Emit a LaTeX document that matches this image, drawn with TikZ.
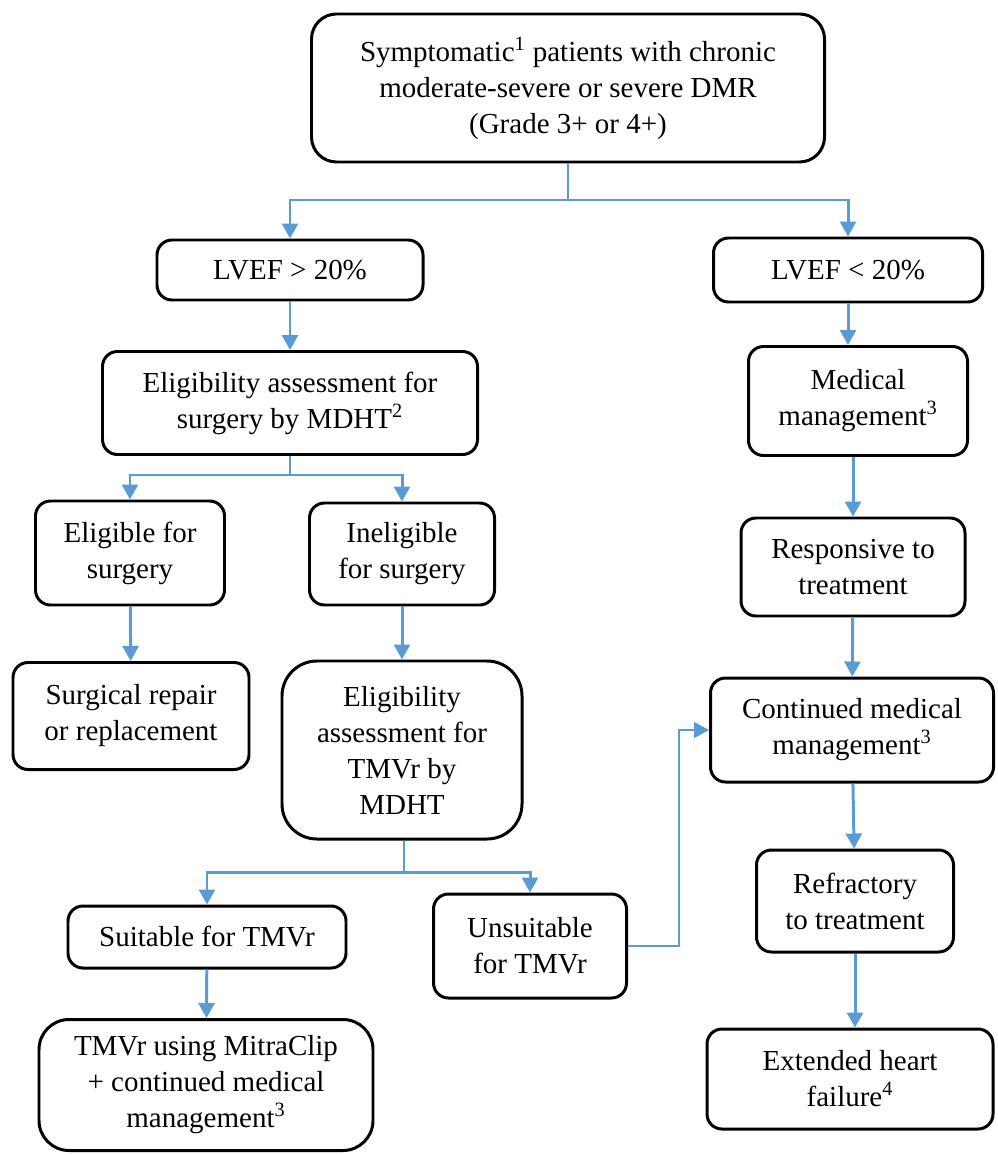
\documentclass[tikz,border=0pt]{standalone}
\usepackage{fontspec}
\setmainfont{Liberation Serif}
\usetikzlibrary{arrows.meta}
\definecolor{flow}{RGB}{91,155,213}

\begin{document}
\begin{tikzpicture}[x=0.02cm, y=-0.02cm,
  main/.style 2 args = {draw, line width=1.7pt, rounded corners=0.3cm, align=center, inner sep=0pt,
    minimum width=#1*0.02cm, minimum height=#2*0.02cm, font=\fontsize{16.5}{20.5}\selectfont},
  link/.style = {flow, line width=1.7pt},
  arr/.style = {link, -{Triangle[width=0.32cm,length=0.3cm]}},
  thinlink/.style = {flow, line width=0.8pt}]
\useasboundingbox (0,0) rectangle (997,1155);

\node[main={513}{148}, rounded corners=0.5cm] (top) at (568,88) {Symptomatic\textsuperscript{1} patients with chronic\\moderate-severe or severe DMR\\(Grade 3+ or 4+)};
\node[main={266}{60}] (lvefA) at (290,270) {LVEF > 20\%};
\node[main={269}{64}] (lvefB) at (848,270) {LVEF < 20\%};
\node[main={375}{103}] (eligS) at (290,403) {Eligibility assessment for\\surgery by MDHT\textsuperscript{2}};
\node[main={219}{109}] (med) at (858,401) {Medical\\management\textsuperscript{3}};
\node[main={189}{104}] (elig) at (130,553) {Eligible for\\surgery};
\node[main={185}{102}] (inel) at (402,554) {Ineligible\\for surgery};
\node[main={224}{98}] (resp) at (853,567) {Responsive to\\treatment};
\node[main={236}{107}] (surg) at (131,716) {Surgical repair\\or replacement};
\node[main={240}{178}, rounded corners=0.7cm] (eligT) at (402,750) {Eligibility\\assessment for\\TMVr by\\MDHT};
\node[main={283}{104}] (cont) at (852,730) {Continued medical\\management\textsuperscript{3}};
\node[main={278}{62}] (suit) at (207,937) {Suitable for TMVr};
\node[main={193}{104}] (unsuit) at (530,946) {Unsuitable\\for TMVr};
\node[main={197}{102}] (refr) at (855,901) {Refractory\\to treatment};
\node[main={334}{131}, rounded corners=0.6cm] (mitra) at (206,1085) {TMVr using MitraClip\\+ continued medical\\management\textsuperscript{3}};
\node[main={286}{100}] (ext) at (850,1079) {Extended heart\\failure\textsuperscript{4}};

\coordinate (j1) at (568,200);
\coordinate (j2) at (290,475);
\coordinate (j3) at (404,872);
\coordinate (k) at (679,730);

\draw[thinlink] (top) -- (j1);
\draw[arr] (j1) -| (lvefA);
\draw[arr] (j1) -| (lvefB);
\draw[arr] (lvefA) -- (eligS);
\draw[arr] (lvefB) -- (lvefB |- med.north);
\draw[link] (eligS) -- (j2);
\draw[arr] (j2) -| (elig);
\draw[arr] (j2) -| (inel);
\draw[arr] (med.south -| resp) -- (resp);
\draw[arr] (elig) -- (surg);
\draw[arr] (inel) -- (eligT);
\draw[arr] (resp) -- (cont);
\draw[thinlink] (eligT.south -| j3) -- (j3);
\draw[arr] (j3) -| (suit);
\draw[arr] (j3) -| (unsuit);
\draw[arr] (suit) -- (mitra);
\draw[thinlink, -{Triangle[width=0.32cm,length=0.3cm]}] (unsuit.east) -| (k) -- (cont);
\draw[arr] (cont) -- (refr);
\draw[arr] (refr) -- (refr |- ext.north);
\end{tikzpicture}
\end{document}
